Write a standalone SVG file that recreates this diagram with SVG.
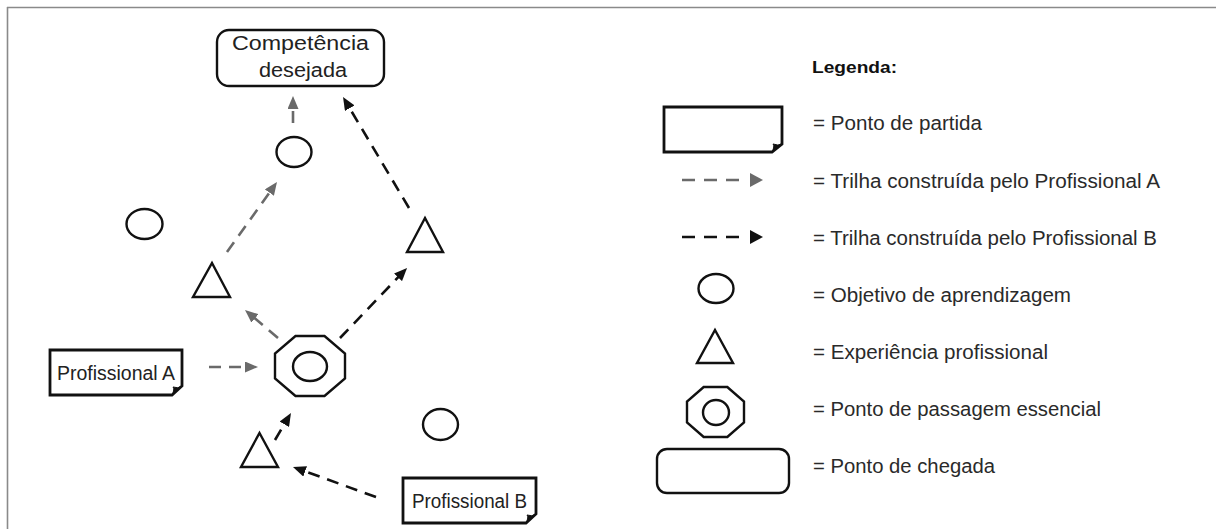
<svg xmlns="http://www.w3.org/2000/svg" width="1216" height="529" viewBox="0 0 1216 529">
<style>
  .shape{fill:#fff;stroke:#111;stroke-width:2.4}
  .box{fill:#fff;stroke:#111;stroke-width:2.8}
  .fold{fill:#111;stroke:#111;stroke-width:1}
  .txt{font-family:"Liberation Sans",Arial,sans-serif;font-size:19.5px;fill:#222}
  .leg{font-family:"Liberation Sans",Arial,sans-serif;font-size:19.5px;fill:#2a2a2a}
  .legb{font-family:"Liberation Sans",Arial,sans-serif;font-size:16.5px;font-weight:bold;fill:#111}
  .ca{fill:none;stroke:#6a6a6a;stroke-width:2.6;stroke-dasharray:12,8}
  .cb{fill:none;stroke:#111;stroke-width:2.6;stroke-dasharray:12,8}
  .frame{stroke:#8a8a8a;stroke-width:1.6;fill:none}
</style>
<defs>
  <marker id="ha" markerUnits="userSpaceOnUse" viewBox="0 0 13 11" markerWidth="13" markerHeight="11" refX="7" refY="5.5" orient="auto">
    <path d="M0,0 L13,5.5 L0,11 z" fill="#6a6a6a"/>
  </marker>
  <marker id="hb" markerUnits="userSpaceOnUse" viewBox="0 0 13 11" markerWidth="13" markerHeight="11" refX="7" refY="5.5" orient="auto">
    <path d="M0,0 L13,5.5 L0,11 z" fill="#111"/>
  </marker>
</defs>
<rect x="0" y="0" width="1216" height="529" fill="#fff"/>
<g id="frame">
  <line class="frame" x1="7" y1="7.5" x2="1216" y2="7.5"/>
  <line class="frame" x1="7.5" y1="7" x2="7.5" y2="529"/>
</g>

<g id="connectors">
  <line class="ca" x1="209" y1="367" x2="252" y2="367" marker-end="url(#ha)"/>
  <line class="ca" x1="278" y1="338" x2="249.6" y2="313.9" marker-end="url(#ha)"/>
  <line class="ca" x1="227" y1="252" x2="273.5" y2="186.9" marker-end="url(#ha)"/>
  <line class="ca" x1="293" y1="123" x2="293" y2="102" marker-end="url(#ha)"/>
  <line class="cb" x1="376" y1="497" x2="298.6" y2="469" marker-end="url(#hb)"/>
  <line class="cb" x1="275" y1="440" x2="287.9" y2="418.2" marker-end="url(#hb)"/>
  <line class="cb" x1="340" y1="338" x2="402.9" y2="272.3" marker-end="url(#hb)"/>
  <line class="cb" x1="409" y1="208" x2="346.1" y2="102.2" marker-end="url(#hb)"/>
</g>

<g id="competencia">
  <rect class="shape" x="217" y="30" width="167" height="56" rx="12" ry="12"/>
  <text class="txt" x="300.5" y="50" text-anchor="middle" textLength="137" lengthAdjust="spacingAndGlyphs">Competência</text>
  <text class="txt" x="303" y="77" text-anchor="middle" textLength="88" lengthAdjust="spacingAndGlyphs">desejada</text>
</g>
<g id="circulo-topo"><ellipse class="shape" cx="294" cy="152" rx="17.5" ry="15"/></g>
<g id="circulo-esq"><ellipse class="shape" cx="144.5" cy="224" rx="18" ry="15"/></g>
<g id="circulo-dir"><ellipse class="shape" cx="440.5" cy="424.5" rx="17.5" ry="15.5"/></g>
<g id="triangulo-dir"><polygon class="shape" points="425,218 443,252 407,252"/></g>
<g id="triangulo-esq"><polygon class="shape" points="212,263 230,297 193,297"/></g>
<g id="triangulo-baixo"><polygon class="shape" points="259.5,433 278,467 241,467"/></g>
<g id="octogono">
  <polygon class="shape" points="295.5,336 324.5,336 345,353.6 345,378.4 324.5,396 295.5,396 275,378.4 275,353.6"/>
  <ellipse class="shape" cx="310" cy="366.5" rx="17" ry="14.5"/>
</g>
<g id="profissional-a">
  <path class="box" d="M50,350 H182 V386 L172,395 H50 Z"/>
  <path class="fold" d="M172,395 Q175,389 173,387 Q178,389 182,386 Z"/>
  <text class="txt" x="57" y="380" textLength="118" lengthAdjust="spacingAndGlyphs">Profissional A</text>
</g>
<g id="profissional-b">
  <path class="box" d="M403,478 H536 V514 L526,523 H403 Z"/>
  <path class="fold" d="M526,523 Q529,517 527,515 Q532,517 536,514 Z"/>
  <text class="txt" x="412" y="508" textLength="115" lengthAdjust="spacingAndGlyphs">Profissional B</text>
</g>

<g id="legenda">
  <text class="legb" x="812" y="73" textLength="85" lengthAdjust="spacingAndGlyphs">Legenda:</text>
  <path class="box" d="M664,107 H782 V144 L772,152 H664 Z"/>
  <path class="fold" d="M772,152 Q775,146 773,144 Q778,146 782,144 Z"/>
  <text class="leg" x="813" y="130" textLength="169" lengthAdjust="spacingAndGlyphs">= Ponto de partida</text>
  <line x1="682" y1="180" x2="740" y2="180" stroke="#6a6a6a" stroke-width="2.6" stroke-dasharray="13,9"/>
  <polygon points="750,173 763,180 750,187" fill="#6a6a6a"/>
  <text class="leg" x="813" y="188" textLength="347" lengthAdjust="spacingAndGlyphs">= Trilha construída pelo Profissional A</text>
  <line x1="682" y1="237" x2="740" y2="237" stroke="#111" stroke-width="2.6" stroke-dasharray="13,9"/>
  <polygon points="750,230 763,237 750,244" fill="#111"/>
  <text class="leg" x="813" y="245" textLength="344" lengthAdjust="spacingAndGlyphs">= Trilha construída pelo Profissional B</text>
  <ellipse class="shape" cx="716" cy="288.5" rx="17.5" ry="14.5"/>
  <text class="leg" x="813" y="302" textLength="258" lengthAdjust="spacingAndGlyphs">= Objetivo de aprendizagem</text>
  <polygon class="shape" points="715,330 733,363 697,363"/>
  <text class="leg" x="813" y="359" textLength="235" lengthAdjust="spacingAndGlyphs">= Experiência profissional</text>
  <polygon class="shape" points="703.7,387 727.3,387 744,401.6 744,422.4 727.3,437 703.7,437 687,422.4 687,401.6"/>
  <ellipse class="shape" cx="716" cy="412.5" rx="13" ry="12.5"/>
  <text class="leg" x="813" y="416" textLength="288" lengthAdjust="spacingAndGlyphs">= Ponto de passagem essencial</text>
  <rect class="shape" x="657" y="449" width="132" height="44" rx="10" ry="10"/>
  <text class="leg" x="813" y="473" textLength="182" lengthAdjust="spacingAndGlyphs">= Ponto de chegada</text>
</g>
</svg>
